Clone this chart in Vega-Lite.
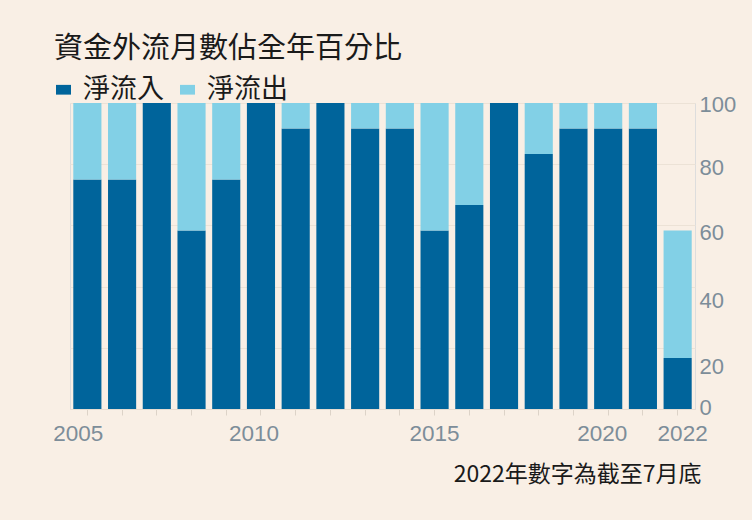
{
  "$schema": "https://vega.github.io/schema/vega-lite/v6.json",
  "width": 625,
  "height": 306,
  "autosize": {"type": "none"},
  "padding": {"left": 70, "top": 103, "right": 57, "bottom": 111},
  "background": "#f9efe5",
  "title": {
    "text": "資金外流月數佔全年百分比",
    "anchor": "start",
    "frame": "group",
    "font": "Noto Sans CJK TC",
    "fontSize": 29,
    "fontWeight": "normal",
    "color": "#1a1a1a",
    "dx": -16,
    "offset": 12
  },
  "data": {
    "values": [
      {"year": "2005", "type": "淨流入", "pct": 75},
      {"year": "2005", "type": "淨流出", "pct": 25},
      {"year": "2006", "type": "淨流入", "pct": 75},
      {"year": "2006", "type": "淨流出", "pct": 25},
      {"year": "2007", "type": "淨流入", "pct": 100},
      {"year": "2007", "type": "淨流出", "pct": 0},
      {"year": "2008", "type": "淨流入", "pct": 58.3},
      {"year": "2008", "type": "淨流出", "pct": 41.7},
      {"year": "2009", "type": "淨流入", "pct": 75},
      {"year": "2009", "type": "淨流出", "pct": 25},
      {"year": "2010", "type": "淨流入", "pct": 100},
      {"year": "2010", "type": "淨流出", "pct": 0},
      {"year": "2011", "type": "淨流入", "pct": 91.7},
      {"year": "2011", "type": "淨流出", "pct": 8.3},
      {"year": "2012", "type": "淨流入", "pct": 100},
      {"year": "2012", "type": "淨流出", "pct": 0},
      {"year": "2013", "type": "淨流入", "pct": 91.7},
      {"year": "2013", "type": "淨流出", "pct": 8.3},
      {"year": "2014", "type": "淨流入", "pct": 91.7},
      {"year": "2014", "type": "淨流出", "pct": 8.3},
      {"year": "2015", "type": "淨流入", "pct": 58.3},
      {"year": "2015", "type": "淨流出", "pct": 41.7},
      {"year": "2016", "type": "淨流入", "pct": 66.7},
      {"year": "2016", "type": "淨流出", "pct": 33.3},
      {"year": "2017", "type": "淨流入", "pct": 100},
      {"year": "2017", "type": "淨流出", "pct": 0},
      {"year": "2018", "type": "淨流入", "pct": 83.3},
      {"year": "2018", "type": "淨流出", "pct": 16.7},
      {"year": "2019", "type": "淨流入", "pct": 91.7},
      {"year": "2019", "type": "淨流出", "pct": 8.3},
      {"year": "2020", "type": "淨流入", "pct": 91.7},
      {"year": "2020", "type": "淨流出", "pct": 8.3},
      {"year": "2021", "type": "淨流入", "pct": 91.7},
      {"year": "2021", "type": "淨流出", "pct": 8.3},
      {"year": "2022", "type": "淨流入", "pct": 16.7},
      {"year": "2022", "type": "淨流出", "pct": 41.6}
    ]
  },
  "mark": {"type": "bar"},
  "encoding": {
    "x": {
      "field": "year",
      "type": "ordinal",
      "scale": {"paddingInner": 0.19, "paddingOuter": 0.095},
      "axis": {
        "labelAngle": 0,
        "labelExpr": "indexof(['2005','2010','2015','2020','2022'], datum.value) >= 0 ? datum.value : ''",
        "labelOffset": {"expr": "datum.value == '2005' ? -9 : datum.value == '2010' ? -7 : datum.value == '2020' ? -6 : datum.value == '2022' ? 5 : 0"},
        "labelFont": "Liberation Sans",
        "labelFontSize": 22.5,
        "labelColor": "#7d8d99",
        "labelPadding": 7,
        "tickColor": "#ddd3c8",
        "tickSize": 6,
        "domainColor": "#e6dcd1",
        "title": "2022年數字為截至7月底",
        "titleFont": "Noto Sans CJK TC",
        "titleFontSize": 23,
        "titleFontWeight": "normal",
        "titleColor": "#1a1a1a",
        "titleAnchor": "end",
        "titleAlign": "right",
        "titleBaseline": "middle",
        "titleX": 631,
        "titleY": 65
      }
    },
    "y": {
      "field": "pct",
      "type": "quantitative",
      "stack": "zero",
      "scale": {"domain": [0, 100]},
      "axis": {
        "orient": "right",
        "values": [0, 20, 40, 60, 80, 100],
        "title": null,
        "domain": false,
        "ticks": false,
        "labelFont": "Liberation Sans",
        "labelFontSize": 22,
        "labelColor": "#7d8d99",
        "labelPadding": 4,
        "labelOffset": {"expr": "datum.value == 80 ? 3 : datum.value == 60 ? 7 : datum.value == 40 ? 14 : datum.value == 20 ? 19 : datum.value == 0 ? -2 : 1"},
        "gridColor": "#ece2d6",
        "gridWidth": 1
      }
    },
    "color": {
      "field": "type",
      "type": "nominal",
      "sort": ["淨流入", "淨流出"],
      "scale": {"domain": ["淨流入", "淨流出"], "range": ["#00649b", "#82d0e6"]},
      "legend": {
        "title": null,
        "orient": "none",
        "direction": "horizontal",
        "legendX": -20,
        "legendY": -27,
        "symbolType": "M-1,-0.65H1V0.65H-1Z",
        "symbolSize": 225,
        "symbolStrokeWidth": 0,
        "labelFont": "Noto Sans CJK TC",
        "labelFontSize": 27,
        "labelColor": "#1a1a1a",
        "labelOffset": 6,
        "columnPadding": 10
      }
    },
    "order": {"field": "type", "sort": "ascending"}
  }
}
